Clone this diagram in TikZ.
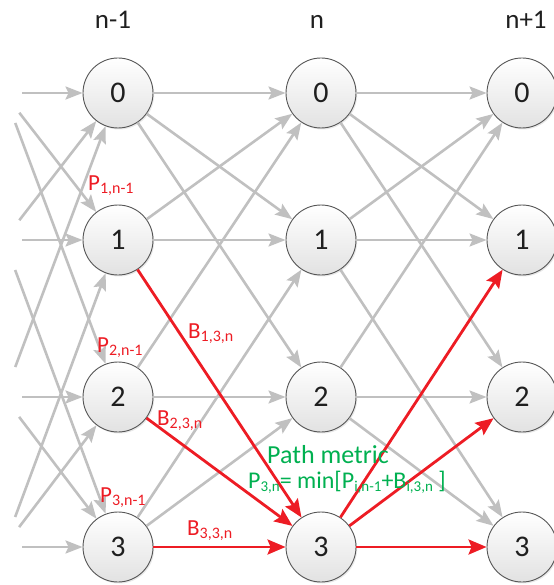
\documentclass[tikz,border=0pt]{standalone}
\usepackage{fontspec}
\setmainfont{Carlito}
\usetikzlibrary{arrows.meta,shadows}
\definecolor{edgegray}{RGB}{192,192,192}
\definecolor{pathred}{RGB}{237,28,36}
\definecolor{metricgreen}{RGB}{0,176,80}
\definecolor{ringgray}{RGB}{85,85,85}
\definecolor{fillgray}{RGB}{226,226,226}
\newcommand\lblsub[1]{\raisebox{-3.5pt}{\fontsize{16}{16}\selectfont #1}}
\newcommand\frmsub[1]{\raisebox{-3pt}{\fontsize{15}{15}\selectfont #1}}
\begin{document}
\begin{tikzpicture}[x=1pt,y=-1pt,
  state/.style={circle, minimum size=70pt, inner sep=0pt, draw=ringgray, line width=0.9pt,
    top color=white, bottom color=fillgray, text=black!88,
    font=\fontsize{30}{30}\selectfont,
    drop shadow={shadow xshift=1.2pt, shadow yshift=-1.5pt, opacity=0.18}},
  trans/.style={draw=edgegray, line width=2.6pt, -{Stealth[length=17pt,width=13pt,inset=3pt]}},
  best/.style={draw=pathred, line width=2.8pt, -{Stealth[length=18pt,width=15pt,inset=3pt]}},
  steplabel/.style={anchor=base, font=\fontsize{27}{27}\selectfont, text=black!88},
  redlabel/.style={anchor=base west, inner sep=0pt, text=pathred, font=\fontsize{23}{23}\selectfont},
  greenlabel/.style={anchor=base west, inner sep=0pt, text=metricgreen}
]
\useasboundingbox (0,0) rectangle (553,585);

% column headings
\node[steplabel] (hA) at (113,29) {n-1};
\node[steplabel] (hB) at (317,29) {n};
\node[steplabel] (hC) at (526,29) {n+1};

% virtual previous column (free ends of stubs)
\coordinate (s0) at (4,93);
\coordinate (s1) at (4,240);
\coordinate (s2) at (4,397);
\coordinate (s3) at (4,547);

% states
\foreach \r/\y in {0/93,1/240,2/397,3/547} {
  \node[state] (a\r) at (118,\y) {\r};
  \node[state] (b\r) at (321,\y) {\r};
  \node[state] (c\r) at (522,\y) {\r};
}

% incoming stubs
\foreach \i/\j/\L in {0/0/18,0/1/25,0/2/32,1/0/25,1/1/18,1/3/32,2/0/32,2/2/18,2/3/25,3/1/32,3/2/25,3/3/18}
  \draw[trans, shorten <=\L pt] (s\i) -- (a\j);

% stage n-1 -> n
\foreach \i/\j in {0/0,0/1,0/2,1/0,1/1,2/0,2/2,3/1,3/2}
  \draw[trans] (a\i) -- (b\j);
% stage n -> n+1
\foreach \i/\j in {0/0,0/1,0/2,1/0,1/1,1/3,2/0,2/2,2/3}
  \draw[trans] (b\i) -- (c\j);

% survivor / candidate paths
\draw[best] (a1) -- (b3);
\draw[best] (a2) -- (b3);
\draw[best] (a3) -- (b3);
\draw[best] (b3) -- (c1);
\draw[best] (b3) -- (c2);
\draw[best] (b3) -- (c3);

% labels
\node[redlabel] (p1) at (88,190) {P\lblsub{1,n-1}};
\node[redlabel] (p2) at (97,352) {P\lblsub{2,n-1}};
\node[redlabel] (p3) at (100,502) {P\lblsub{3,n-1}};
\node[redlabel] (bb1) at (188,338) {B\lblsub{1,3,n}};
\node[redlabel] (bb2) at (157,425) {B\lblsub{2,3,n}};
\node[redlabel] (bb3) at (187,535) {B\lblsub{3,3,n}};
\node[greenlabel, font=\fontsize{26}{26}\selectfont] (pm) at (267,463) {Path metric};
\node[greenlabel, font=\fontsize{24}{24}\selectfont] (pf) at (248,488)
  {P\frmsub{3,n}= min[P\frmsub{i,n-1}+B\frmsub{i,3,n} ]};
\end{tikzpicture}
\end{document}
